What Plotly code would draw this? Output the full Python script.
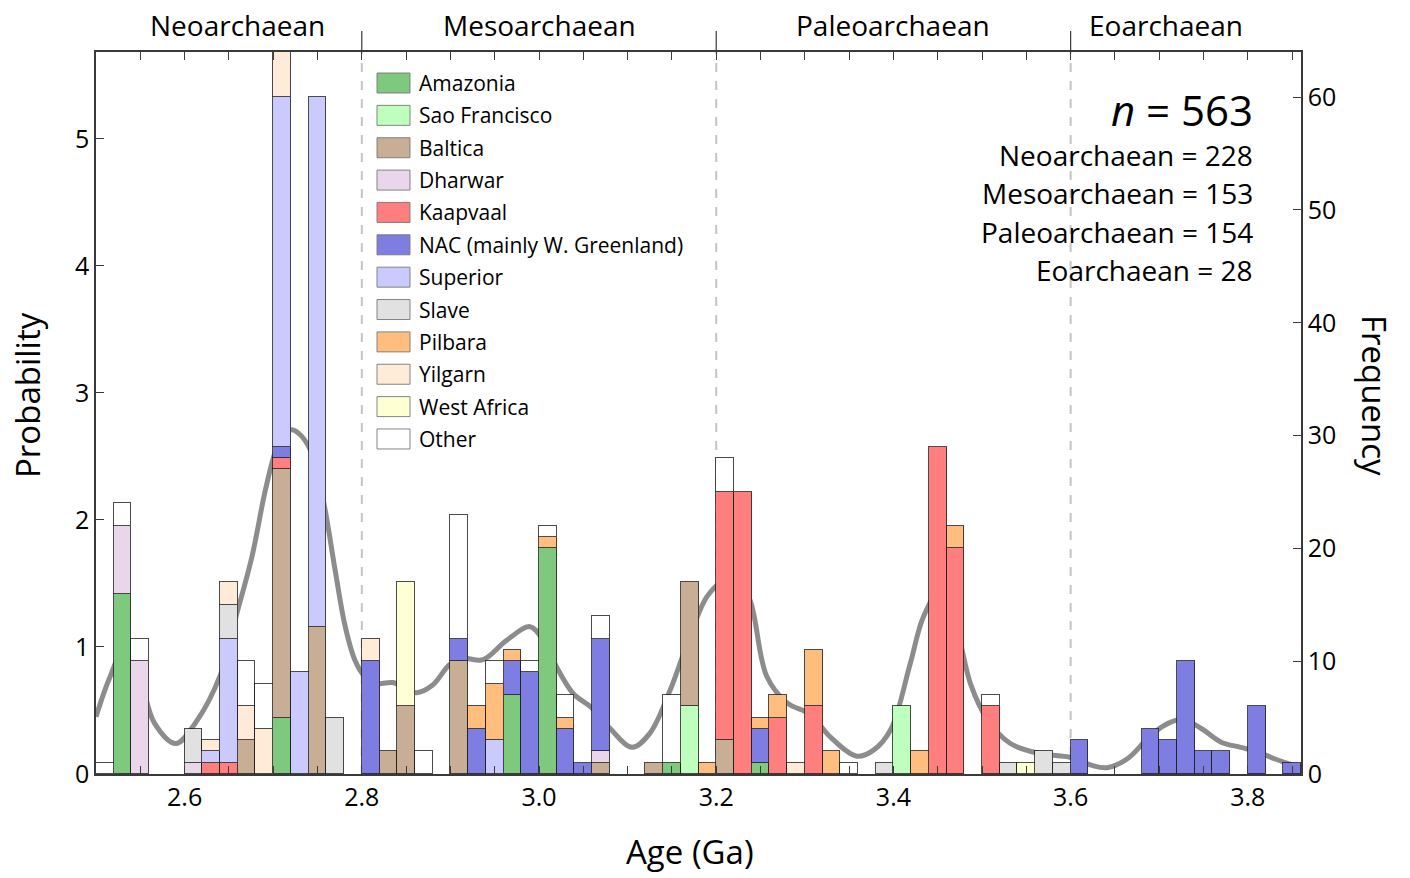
import plotly.graph_objects as go

# ---------------- data ----------------
bin_start = [2.50, 2.52, 2.54, 2.56, 2.58, 2.60, 2.62, 2.64, 2.66, 2.68,
             2.70, 2.72, 2.74, 2.76, 2.78, 2.80, 2.82, 2.84, 2.86, 2.88,
             2.90, 2.92, 2.94, 2.96, 2.98, 3.00, 3.02, 3.04, 3.06, 3.08,
             3.10, 3.12, 3.14, 3.16, 3.18, 3.20, 3.22, 3.24, 3.26, 3.28,
             3.30, 3.32, 3.34, 3.36, 3.38, 3.40, 3.42, 3.44, 3.46, 3.48,
             3.50, 3.52, 3.54, 3.56, 3.58, 3.60, 3.62, 3.64, 3.66, 3.68,
             3.70, 3.72, 3.74, 3.76, 3.78, 3.80, 3.82, 3.84]
bin_width = 0.02
n_total = 563

amazonia = [0, 16, 0, 0, 0, 0, 0, 0, 0, 0,
            5, 0, 0, 0, 0, 0, 0, 0, 0, 0,
            0, 0, 0, 7, 0, 20, 0, 0, 0, 0,
            0, 0, 1, 0, 0, 0, 0, 1, 0, 0,
            0, 0, 0, 0, 0, 0, 0, 0, 0, 0,
            0, 0, 0, 0, 0, 0, 0, 0, 0, 0,
            0, 0, 0, 0, 0, 0, 0, 0]
sao_francisco = [0, 0, 0, 0, 0, 0, 0, 0, 0, 0,
                 0, 0, 0, 0, 0, 0, 0, 0, 0, 0,
                 0, 0, 0, 0, 0, 0, 0, 0, 0, 0,
                 0, 0, 0, 6, 0, 0, 0, 0, 0, 0,
                 0, 0, 0, 0, 0, 6, 0, 0, 0, 0,
                 0, 0, 0, 0, 0, 0, 0, 0, 0, 0,
                 0, 0, 0, 0, 0, 0, 0, 0]
baltica = [0, 0, 0, 0, 0, 0, 0, 0, 3, 0,
           22, 0, 13, 0, 0, 0, 2, 6, 0, 0,
           10, 0, 0, 0, 0, 0, 0, 0, 1, 0,
           0, 1, 0, 11, 0, 3, 0, 0, 0, 0,
           0, 0, 0, 0, 0, 0, 0, 0, 0, 0,
           0, 0, 0, 0, 0, 0, 0, 0, 0, 0,
           0, 0, 0, 0, 0, 0, 0, 0]
dharwar = [0, 6, 10, 0, 0, 1, 0, 0, 0, 0,
           0, 0, 0, 0, 0, 0, 0, 0, 0, 0,
           0, 0, 0, 0, 0, 0, 0, 0, 1, 0,
           0, 0, 0, 0, 0, 0, 0, 0, 0, 0,
           0, 0, 0, 0, 0, 0, 0, 0, 0, 0,
           0, 0, 0, 0, 0, 0, 0, 0, 0, 0,
           0, 0, 0, 0, 0, 0, 0, 0]
kaapvaal = [0, 0, 0, 0, 0, 0, 1, 1, 0, 0,
            1, 0, 0, 0, 0, 0, 0, 0, 0, 0,
            0, 0, 0, 0, 0, 0, 0, 0, 0, 0,
            0, 0, 0, 0, 0, 22, 25, 0, 5, 0,
            6, 0, 0, 0, 0, 0, 0, 29, 20, 0,
            6, 0, 0, 0, 0, 0, 0, 0, 0, 0,
            0, 0, 0, 0, 0, 0, 0, 0]
nac = [0, 0, 0, 0, 0, 0, 0, 0, 0, 0,
       1, 0, 0, 0, 0, 10, 0, 0, 0, 0,
       2, 4, 0, 3, 9, 0, 4, 1, 10, 0,
       0, 0, 0, 0, 0, 0, 0, 3, 0, 0,
       0, 0, 0, 0, 0, 0, 0, 0, 0, 0,
       0, 0, 0, 0, 0, 3, 0, 0, 0, 4,
       3, 10, 2, 2, 0, 6, 0, 1]
superior = [0, 0, 0, 0, 0, 0, 1, 11, 0, 0,
            31, 9, 47, 0, 0, 0, 0, 0, 0, 0,
            0, 0, 3, 0, 0, 0, 0, 0, 0, 0,
            0, 0, 0, 0, 0, 0, 0, 0, 0, 0,
            0, 0, 0, 0, 0, 0, 0, 0, 0, 0,
            0, 0, 0, 0, 0, 0, 0, 0, 0, 0,
            0, 0, 0, 0, 0, 0, 0, 0]
slave = [0, 0, 0, 0, 0, 3, 0, 3, 0, 0,
         0, 0, 0, 5, 0, 0, 0, 0, 0, 0,
         0, 0, 0, 0, 0, 0, 0, 0, 0, 0,
         0, 0, 0, 0, 0, 0, 0, 0, 0, 0,
         0, 0, 0, 0, 1, 0, 0, 0, 0, 0,
         0, 1, 0, 2, 1, 0, 0, 0, 0, 0,
         0, 0, 0, 0, 0, 0, 0, 0]
pilbara = [0, 0, 0, 0, 0, 0, 0, 0, 0, 0,
           0, 0, 0, 0, 0, 0, 0, 0, 0, 0,
           0, 2, 5, 1, 0, 1, 1, 0, 0, 0,
           0, 0, 0, 0, 1, 0, 0, 1, 2, 0,
           5, 2, 0, 0, 0, 0, 2, 0, 2, 0,
           0, 0, 0, 0, 0, 0, 0, 0, 0, 0,
           0, 0, 0, 0, 0, 0, 0, 0]
yilgarn = [0, 0, 0, 0, 0, 0, 1, 2, 3, 4,
           4, 0, 0, 0, 0, 2, 0, 0, 0, 0,
           0, 0, 0, 0, 0, 0, 0, 0, 0, 0,
           0, 0, 0, 0, 0, 0, 0, 0, 0, 1,
           0, 0, 0, 0, 0, 0, 0, 0, 0, 0,
           0, 0, 0, 0, 0, 0, 0, 0, 0, 0,
           0, 0, 0, 0, 0, 0, 0, 0]
west_africa = [0, 0, 0, 0, 0, 0, 0, 0, 0, 0,
               0, 0, 0, 0, 0, 0, 0, 11, 0, 0,
               0, 0, 0, 0, 0, 0, 0, 0, 0, 0,
               0, 0, 0, 0, 0, 0, 0, 0, 0, 0,
               0, 0, 0, 0, 0, 0, 0, 0, 0, 0,
               0, 0, 1, 0, 0, 0, 0, 0, 0, 0,
               0, 0, 0, 0, 0, 0, 0, 0]
other = [1, 2, 2, 0, 0, 0, 0, 0, 4, 4,
         0, 0, 0, 0, 0, 0, 0, 0, 2, 0,
         11, 0, 2, 0, 1, 1, 2, 0, 2, 0,
         0, 0, 6, 0, 0, 3, 0, 0, 0, 0,
         0, 0, 1, 0, 0, 0, 0, 0, 0, 0,
         1, 0, 0, 0, 0, 0, 0, 0, 0, 0,
         0, 0, 0, 0, 0, 0, 0, 0]

series_names = ["Amazonia", "Sao Francisco", "Baltica", "Dharwar", "Kaapvaal",
                "NAC (mainly W. Greenland)", "Superior", "Slave", "Pilbara",
                "Yilgarn", "West Africa", "Other"]
series_values = [amazonia, sao_francisco, baltica, dharwar, kaapvaal, nac,
                 superior, slave, pilbara, yilgarn, west_africa, other]
series_colors = ["rgb(126,201,126)", "rgb(190,255,190)", "rgb(201,174,150)",
                 "rgb(233,214,235)", "rgb(255,126,126)", "rgb(126,126,226)",
                 "rgb(202,202,255)", "rgb(225,225,225)", "rgb(255,190,126)",
                 "rgb(255,235,215)", "rgb(255,255,212)", "rgb(255,255,255)"]

# probability density curve
kde_age = [2.500, 2.515, 2.532, 2.549, 2.566, 2.590, 2.612, 2.641, 2.658, 2.676,
           2.691, 2.703, 2.712, 2.721, 2.732, 2.745, 2.758, 2.770, 2.781, 2.792,
           2.803, 2.815, 2.835, 2.862, 2.880, 2.899, 2.914, 2.937, 2.963, 2.990,
           3.005, 3.020, 3.039, 3.058, 3.080, 3.105, 3.125, 3.148, 3.170, 3.189,
           3.208, 3.220, 3.238, 3.257, 3.280, 3.306, 3.329, 3.359, 3.378, 3.397,
           3.419, 3.434, 3.454, 3.472, 3.487, 3.506, 3.532, 3.566, 3.600, 3.623,
           3.641, 3.664, 3.687, 3.705, 3.726, 3.747, 3.770, 3.792, 3.811, 3.830,
           3.860]
kde_prob = [0.45, 0.75, 0.98, 0.77, 0.40, 0.24, 0.40, 0.79, 1.24, 1.71,
            2.23, 2.55, 2.67, 2.71, 2.66, 2.50, 2.10, 1.60, 1.17, 0.90,
            0.77, 0.71, 0.72, 0.64, 0.70, 0.86, 0.91, 0.90, 1.05, 1.16,
            1.05, 0.84, 0.63, 0.53, 0.36, 0.21, 0.32, 0.66, 1.08, 1.39,
            1.53, 1.58, 1.37, 0.77, 0.56, 0.47, 0.29, 0.14, 0.19, 0.35,
            0.87, 1.24, 1.46, 1.13, 0.71, 0.43, 0.24, 0.16, 0.13, 0.07,
            0.05, 0.12, 0.28, 0.38, 0.43, 0.36, 0.25, 0.21, 0.175, 0.12,
            0.05]

x_ticks = [2.6, 2.8, 3.0, 3.2, 3.4, 3.6, 3.8]
prob_ticks = [0, 1, 2, 3, 4, 5]
freq_ticks = [0, 10, 20, 30, 40, 50, 60]
freq_max = 64

period_names = ["Neoarchaean", "Mesoarchaean", "Paleoarchaean", "Eoarchaean"]
period_label_x = [2.66, 3.0, 3.40, 3.708]
period_bounds = [2.8, 3.2, 3.6]
period_counts = [228, 153, 154, 28]

FONT = "Open Sans"

# ---------------- figure ----------------
fig = go.Figure()

for name, vals, col in zip(series_names, series_values, series_colors):
    fig.add_trace(go.Bar(
        x=bin_start, y=[v if v else None for v in vals],
        width=bin_width, offset=0, name=name,
        marker=dict(color=col, line=dict(color="rgba(30,30,30,0.8)", width=1)),
        yaxis="y2", showlegend=False,
    ))

fig.add_trace(go.Scatter(
    x=kde_age, y=kde_prob, mode="lines", yaxis="y",
    line=dict(color="rgba(70,70,70,0.62)", width=5, shape="spline", smoothing=1.0),
    showlegend=False, hoverinfo="skip",
))

prob_max = freq_max / (n_total * bin_width)

axis_col = "#3a3a3a"
fig.update_layout(
    width=1410, height=878,
    margin=dict(l=96, r=109, t=52, b=104),
    plot_bgcolor="white", paper_bgcolor="white",
    barmode="stack", bargap=0, showlegend=False,
    font=dict(family=FONT, color="black"),
    xaxis=dict(range=[2.5, 3.86], tickvals=x_ticks, tickformat=".1f",
               ticks="inside", ticklen=8, tickwidth=1.2, tickcolor=axis_col,
               minor=dict(dtick=0.05, tick0=2.5, ticks="inside", ticklen=5,
                          tickwidth=1, tickcolor=axis_col),
               showline=True, linecolor=axis_col, linewidth=1.5, mirror="allticks",
               showgrid=False, zeroline=False, tickfont=dict(size=25, family=FONT)),
    yaxis=dict(range=[0, prob_max], tickvals=prob_ticks, ticks="inside",
               ticklen=8, tickwidth=1.2, tickcolor=axis_col,
               showline=True, linecolor=axis_col, linewidth=1.5,
               showgrid=False, zeroline=False, tickfont=dict(size=25, family=FONT)),
    yaxis2=dict(range=[0, freq_max], tickvals=freq_ticks, overlaying="y",
                side="right", ticks="inside", ticklen=8, tickwidth=1.2,
                tickcolor=axis_col, showline=True, linecolor=axis_col,
                linewidth=1.5, showgrid=False, zeroline=False,
                tickfont=dict(size=25, family=FONT)),
)

# period boundaries
for b in period_bounds:
    fig.add_shape(type="line", xref="x", yref="paper", x0=b, x1=b, y0=0, y1=1,
                  line=dict(color="rgba(190,190,190,0.9)", width=2, dash="dash"),
                  layer="below")
    fig.add_shape(type="line", xref="x", yref="paper", x0=b, x1=b, y0=1, y1=1.029,
                  line=dict(color=axis_col, width=1.2))

for name, xc in zip(period_names, period_label_x):
    fig.add_annotation(x=xc, y=1.037, xref="x", yref="paper", text=name,
                       showarrow=False, font=dict(size=28, family=FONT),
                       xanchor="center", yanchor="middle")

# counts text
fig.add_annotation(x=0.962, y=0.92, xref="paper", yref="paper",
                   text="<i>n</i> = %d" % n_total, showarrow=False,
                   font=dict(size=42, family=FONT), xanchor="right", yanchor="middle")
for i, (name, c) in enumerate(zip(period_names, period_counts)):
    fig.add_annotation(x=0.962, y=0.8573 - i * 0.0532, xref="paper", yref="paper",
                       text="%s = %d" % (name, c), showarrow=False,
                       font=dict(size=28, family=FONT), xanchor="right",
                       yanchor="middle")

# axis titles
fig.add_annotation(x=-0.0564, y=0.525, xref="paper", yref="paper", text="Probability",
                   textangle=-90, showarrow=False, font=dict(size=33, family=FONT),
                   xanchor="center", yanchor="middle")
fig.add_annotation(x=1.0614, y=0.5235, xref="paper", yref="paper", text="Frequency",
                   textangle=90, showarrow=False, font=dict(size=33, family=FONT),
                   xanchor="center", yanchor="middle")
fig.add_annotation(x=0.4929, y=-0.108, xref="paper", yref="paper", text="Age (Ga)",
                   showarrow=False, font=dict(size=33, family=FONT),
                   xanchor="center", yanchor="middle")

# legend (drawn manually to match the wide swatches)
plot_w, plot_h = 1205.0, 722.0
for i, (name, col) in enumerate(zip(series_names, series_colors)):
    yc = 83 + 32.36 * i
    y_mid = (774 - yc) / plot_h
    fig.add_shape(type="rect", xref="paper", yref="paper",
                  x0=(377 - 96) / plot_w, x1=(410 - 96) / plot_w,
                  y0=y_mid - 10 / plot_h, y1=y_mid + 10 / plot_h,
                  fillcolor=col, line=dict(color="rgba(120,120,120,0.9)", width=1))
    fig.add_annotation(x=(417 - 96) / plot_w, y=y_mid, xref="paper", yref="paper",
                       text=name, showarrow=False, font=dict(size=21, family=FONT),
                       xanchor="left", yanchor="middle")

fig.write_html("out.html", config={"displayModeBar": False},
               post_script="document.body.style.margin='0';document.body.style.padding='0';")
